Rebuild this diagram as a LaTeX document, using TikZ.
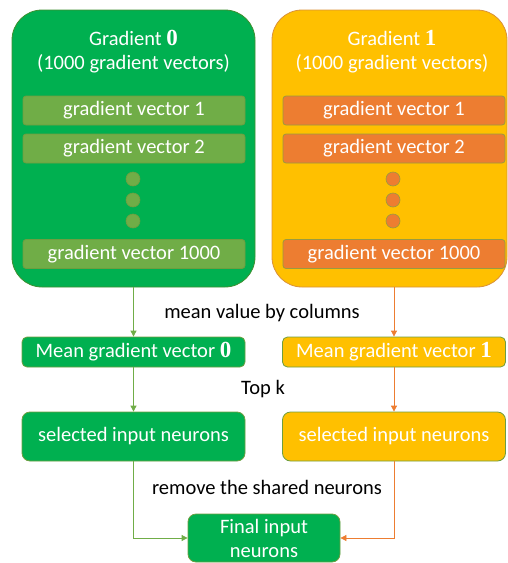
\documentclass[tikz,border=0pt]{standalone}
\usepackage{fontspec}
\setmainfont{Carlito}
\newfontfamily\numfont{Liberation Serif}
\usetikzlibrary{arrows.meta}
\definecolor{cgreen}{HTML}{00B050}
\definecolor{cgreenbar}{HTML}{70AD47}
\definecolor{cyellow}{HTML}{FFC000}
\definecolor{corange}{HTML}{ED7D31}
\definecolor{cgreenedge}{HTML}{3F8F30}
\definecolor{cyellowedge}{HTML}{D9913A}
\definecolor{cbaredge}{HTML}{6E9E40}
\definecolor{corangeedge}{HTML}{9A9A40}
\newcommand{\bignum}[1]{{\numfont\bfseries\fontsize{23}{24}\selectfont #1}}
\begin{document}
\begin{tikzpicture}[x=1pt,y=-1pt,
  txt/.style={font=\fontsize{20.5}{24}\selectfont},
  bigbox/.style={rounded corners=30pt, minimum width=243pt, minimum height=277pt, line width=0.8pt},
  bar/.style={txt, text=white, rounded corners=3pt, minimum width=222pt, minimum height=29pt, line width=0.8pt, inner sep=0pt},
  dotg/.style={circle, minimum size=14pt, inner sep=0pt, line width=0.6pt},
  stepbox/.style={txt, text=white, rounded corners=5pt, minimum width=223pt, line width=0.8pt, draw=cbaredge, inner sep=0pt},
  lbl/.style={txt, text=black},
  arrg/.style={draw=cgreenbar, line width=0.8pt, -{Triangle[length=6pt,width=6pt]}},
  arro/.style={draw=corange, line width=0.8pt, -{Triangle[length=6pt,width=6pt]}}
]
\useasboundingbox (0,0) rectangle (508,563);
% big boxes
\node[bigbox, fill=cgreen, draw=cgreenedge] (big0) at (133.5,148.5) {};
\node[bigbox, fill=cyellow, draw=cyellowedge, minimum width=235pt] (big1) at (389.5,148.5) {};
\node[txt, text=white, align=center] (t0) at (133.5,52) {Gradient \bignum{0}\\(1000 gradient vectors)};
\node[txt, text=white, align=center] (t1) at (392,52) {Gradient \bignum{1}\\(1000 gradient vectors)};
% bars left
\node[bar, fill=cgreenbar, draw=cbaredge] (g01) at (134,110.5) {gradient vector 1};
\node[bar, fill=cgreenbar, draw=cbaredge] (g02) at (134,148.5) {gradient vector 2};
\node[dotg, fill=cgreenbar, draw=cbaredge] (d01) at (133,179) {};
\node[dotg, fill=cgreenbar, draw=cbaredge] (d02) at (133,200) {};
\node[dotg, fill=cgreenbar, draw=cbaredge] (d03) at (133,221) {};
\node[bar, fill=cgreenbar, draw=cbaredge] (g03) at (134,254) {gradient vector 1000};
% bars right
\node[bar, fill=corange, draw=corangeedge] (g11) at (394,110.5) {gradient vector 1};
\node[bar, fill=corange, draw=corangeedge] (g12) at (394,148.5) {gradient vector 2};
\node[dotg, fill=corange, draw=corangeedge] (d11) at (393,179) {};
\node[dotg, fill=corange, draw=corangeedge] (d12) at (393,200) {};
\node[dotg, fill=corange, draw=corangeedge] (d13) at (393,221) {};
\node[bar, fill=corange, draw=corangeedge] (g13) at (394,254) {gradient vector 1000};
% mean boxes
\node[stepbox, fill=cgreen, minimum height=30pt] (m0) at (133.5,352) {Mean gradient vector \bignum{0}};
\node[stepbox, fill=cyellow, minimum height=30pt] (m1) at (394,352) {Mean gradient vector \bignum{1}};
% selected boxes
\node[stepbox, fill=cgreen, rounded corners=8pt, minimum height=49pt] (s0) at (133.5,436.5) {selected input neurons};
\node[stepbox, fill=cyellow, rounded corners=8pt, minimum height=49pt] (s1) at (394,436.5) {selected input neurons};
% final
\node[stepbox, fill=cgreen, rounded corners=8pt, minimum width=152pt, minimum height=48pt, align=center] (fin) at (264,538) {Final input\\neurons};
% labels
\node[lbl] (l1) at (262,313) {mean value by columns};
\node[lbl] (l2) at (263,389) {Top k};
\node[lbl] (l3) at (267,487) {remove the shared neurons};
% arrows
\draw[arrg] (m0.north |- big0.south) -- (m0.north);
\draw[arro] (m1.north |- big1.south) -- (m1.north);
\draw[arrg] (m0.south) -- (s0.north);
\draw[arro] (m1.south) -- (s1.north);
\draw[arrg] (s0.south) |- (fin.west);
\draw[arro] (s1.south) |- (fin.east);
\end{tikzpicture}
\end{document}
